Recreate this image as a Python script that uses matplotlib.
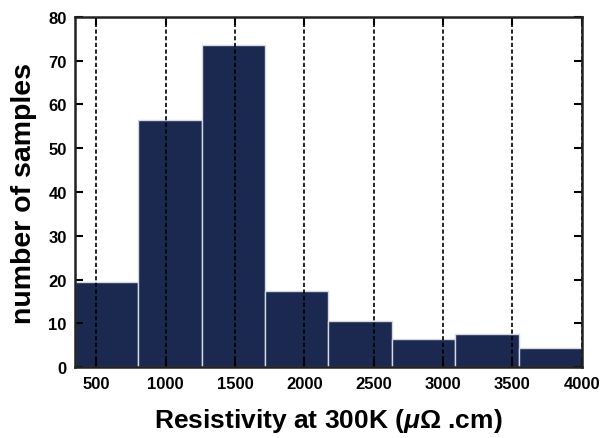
import matplotlib
matplotlib.use("Agg")
import matplotlib.pyplot as plt
import numpy as np

plt.rcParams['font.family'] = ['Liberation Sans', 'DejaVu Sans']
plt.rcParams['font.weight'] = 'bold'
plt.rcParams['mathtext.fontset'] = 'custom'
plt.rcParams['mathtext.rm'] = 'Liberation Sans:bold'
plt.rcParams['mathtext.it'] = 'Liberation Sans:italic:bold'

# histogram bins (resistivity, uOhm.cm) and sample counts
bin_edges = [348, 805, 1261, 1718, 2174, 2630, 3087, 3544, 4000]
counts = [19.5, 56.5, 73.5, 17.5, 10.5, 6.5, 7.5, 4.5]
xticks = [500, 1000, 1500, 2000, 2500, 3000, 3500, 4000]
yticks = [0, 10, 20, 30, 40, 50, 60, 70, 80]

fig = plt.figure(figsize=(6.03, 4.39), dpi=100)
ax = fig.add_axes([0.1244, 0.161, 0.8406, 0.7987])

left = np.array(bin_edges[:-1])
widths = np.diff(bin_edges)
ax.bar(left, counts, width=widths, align='edge', color='#1b2950',
       edgecolor='#d5d8e0', linewidth=1.0)

ax.set_xlim(bin_edges[0], bin_edges[-1])
ax.set_ylim(0, 80)
ax.set_xticks(xticks)
ax.set_yticks(yticks)

ax.xaxis.grid(True, linestyle=(0, (2.5, 1.5)), color='black', linewidth=1.2)
ax.tick_params(direction='in', length=6, width=1.5, labelsize=12,
               top=True, right=True, pad=6)
for lab in ax.get_xticklabels() + ax.get_yticklabels():
    lab.set_fontweight('bold')
for sp in ax.spines.values():
    sp.set_linewidth(1.8)
    sp.set_color('#222222')

ax.set_ylabel('number of samples', fontsize=20.5, fontweight='bold', labelpad=8)
ax.set_xlabel(r'Resistivity at 300K ($\mu$Ω .cm)', fontsize=19,
              fontweight='bold', labelpad=11)

fig.savefig('out.png', dpi=100)
